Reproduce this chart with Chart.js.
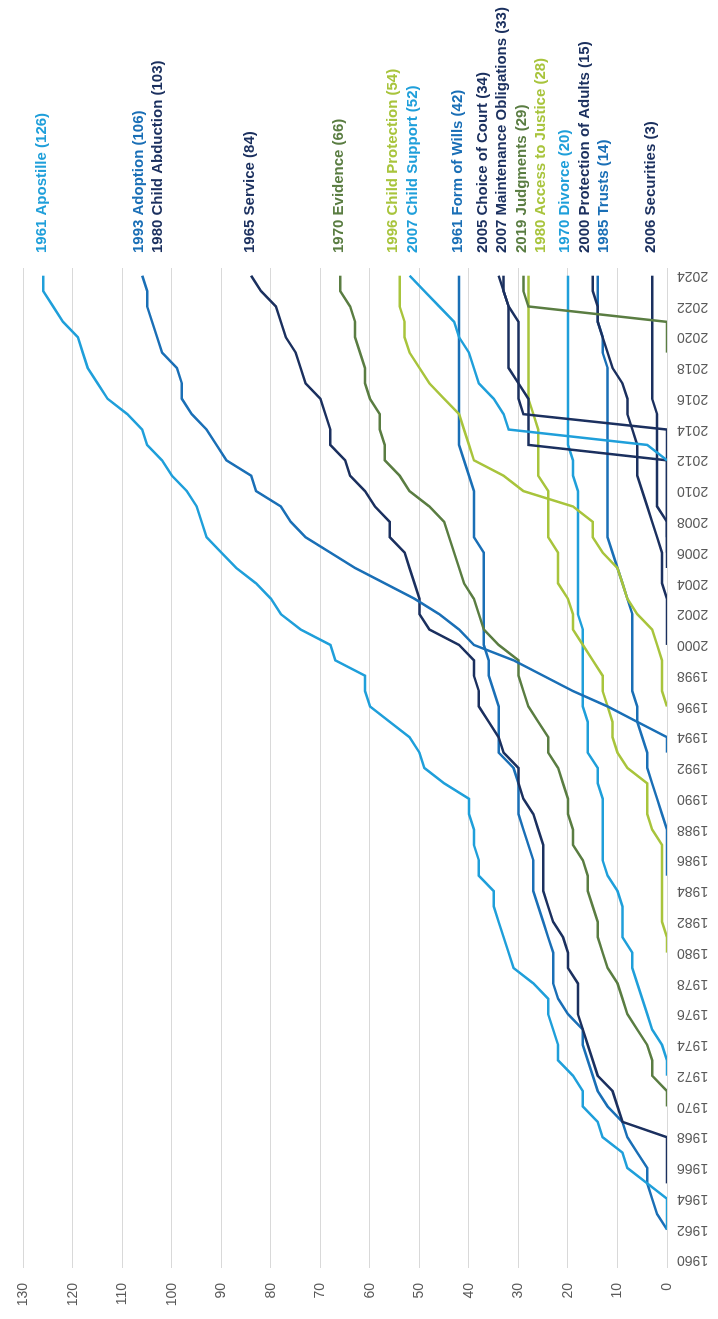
<!DOCTYPE html>
<html>
<head>
<meta charset="utf-8">
<script src="https://cdn.jsdelivr.net/npm/chart.js@4.4.1/dist/chart.umd.min.js"></script>
<style>
  html, body { margin: 0; padding: 0; background: #ffffff; overflow: hidden; }
  #wrap {
    position: absolute; left: 0; top: 0;
    width: 1319px; height: 718px;
    transform-origin: 0 0;
    transform: translate(0, 1319px) rotate(-90deg);
  }
</style>
</head>
<body>
<div id="wrap"><canvas id="c"></canvas></div>
<script>
// ---------- categories ----------
const years = [1960,1961,1962,1963,1964,1965,1966,1967,1968,1969,
  1970,1971,1972,1973,1974,1975,1976,1977,1978,1979,
  1980,1981,1982,1983,1984,1985,1986,1987,1988,1989,
  1990,1991,1992,1993,1994,1995,1996,1997,1998,1999,
  2000,2001,2002,2003,2004,2005,2006,2007,2008,2009,
  2010,2011,2012,2013,2014,2015,2016,2017,2018,2019,
  2020,2021,2022,2023,2024];

// ---------- series (cumulative parties, from first plotted year) ----------
const apostille = [0,0,0,4,8,9,13,14,
  17,17,19,22,22,23,24,24,27,31,
  32,33,34,35,35,38,38,39,39,40,
  40,45,49,50,52,56,60,61,61,67,
  68,74,78,80,83,87,90,93,94,95,
  97,100,102,105,106,109,113,115,117,118,
  119,122,124,126,126];
const adoption = [0,0,6,12,19,25,31,
  39,42,46,51,57,63,68,73,76,78,
  83,84,89,91,93,96,98,98,99,102,
  103,104,105,105,106];
const service = [0,0,0,0,9,
  10,11,14,15,16,17,18,18,18,20,
  20,21,23,24,25,25,25,25,26,27,
  29,30,30,33,34,36,38,38,39,39,
  42,48,50,50,51,52,53,56,56,59,
  61,64,65,68,68,69,70,73,74,75,
  77,78,79,82,84];
const evidence = [0,0,3,3,4,6,8,9,10,12,
  13,14,14,15,16,16,17,19,19,20,
  20,21,22,24,24,26,28,29,30,30,
  34,37,38,39,41,42,43,44,45,48,
  52,54,57,57,58,58,60,61,61,62,
  63,63,64,66,66];
const childProtection = [0,1,1,1,
  2,3,6,8,9,10,13,15,15,19,
  29,33,39,40,41,42,45,48,50,52,
  53,53,54,54,54];
const childSupport = [0,4,32,33,35,38,39,40,
  42,43,46,49,52];
const formOfWills = [0,2,3,4,4,6,8,9,
  12,14,15,16,17,17,20,22,23,23,
  23,24,25,26,27,27,27,28,29,30,
  30,30,31,34,34,34,34,35,36,36,
  37,37,37,37,37,37,37,39,39,39,
  39,40,41,42,42,42,42,42,42,42,
  42,42,42,42,42];
const choiceOfCourt = [0,0,0,0,0,
  0,0,0,0,0,29,30,30,30,30,
  30,30,32,33,34];
const maintenance = [0,0,0,
  0,0,0,28,28,28,28,30,32,32,
  32,32,32,33,33];
const judgments = [0,0,0,28,29,29];
const accessToJustice = [0,0,1,1,1,1,1,1,3,4,
  4,4,8,10,11,11,12,13,13,15,
  17,19,19,20,22,22,22,24,24,24,
  24,26,26,26,26,27,28,28,28,28,
  28,28,28,28,28];
const divorce = [0,0,1,3,4,5,6,7,
  7,9,9,9,10,12,13,13,13,13,
  13,14,14,16,16,16,17,17,17,17,
  17,17,18,18,18,18,18,18,18,18,
  18,19,19,20,20,20,20,20,20,20,
  20,20,20,20,20];
const trusts = [0,0,0,0,1,
  2,3,4,4,5,6,6,7,7,7,
  7,7,7,8,9,10,11,12,12,12,
  12,12,12,12,12,12,12,12,12,13,
  13,14,14,14,14];
const protectionOfAdults = [0,0,0,0,1,1,1,2,3,4,
  5,6,6,6,7,8,8,9,11,12,
  13,14,14,15,15];
const securities = [0,0,0,2,
  2,2,2,2,2,2,3,3,3,3,
  3,3,3,3,3];

// ---------- series metadata ----------
const seriesNames = ['Apostille','Adoption','Child Abduction','Service','Evidence',
  'Child Protection','Child Support','Form of Wills','Choice of Court',
  'Maintenance Obligations','Judgments','Access to Justice','Divorce',
  'Protection of Adults','Trusts','Securities'];
const conventionYears = [1961,1993,1980,1965,1970,1996,2007,1961,2005,2007,2019,1980,1970,2000,1985,2006];
const totals = [126,106,103,84,66,54,52,42,34,33,29,28,20,15,14,3];
const firstYears = [1962,1993,null,1965,1970,1996,2012,1962,2005,2007,2019,1980,1972,1985 + 15,1985,2006];
const seriesValues = [apostille,adoption,null,service,evidence,childProtection,childSupport,
  formOfWills,choiceOfCourt,maintenance,judgments,accessToJustice,divorce,
  protectionOfAdults,trusts,securities];

// ---------- styles ----------
const LIGHT = '#1f9fda', MID = '#1a6fb6', NAVY = '#1b305f', GREEN = '#5a7d42', LIME = '#a8c43c';
const seriesColors = [LIGHT,MID,NAVY,NAVY,GREEN,LIME,LIGHT,MID,NAVY,NAVY,GREEN,LIME,LIGHT,NAVY,MID,NAVY];
const FONT = '"Liberation Sans", Arial, sans-serif';

// ---------- build datasets ----------
const datasets = [];
seriesValues.forEach((vals, i) => {
  if (!vals) return;
  const offset = years.indexOf(firstYears[i]);
  const data = years.map((y, k) => (k >= offset && k - offset < vals.length) ? vals[k - offset] : null);
  datasets.push({
    label: seriesNames[i],
    data,
    borderColor: seriesColors[i],
    backgroundColor: seriesColors[i],
    borderWidth: 2.5,
    pointRadius: 0,
    tension: 0,
    fill: false,
    spanGaps: false
  });
});

// ---------- end labels plugin ----------
const endLabels = {
  id: 'endLabels',
  afterDatasetsDraw(chart) {
    const { ctx, chartArea, scales } = chart;
    const ys = scales.y;
    const gap = 19.5;
    const items = seriesNames.map((n, i) => ({
      text: conventionYears[i] + ' ' + n + ' (' + totals[i] + ')',
      color: seriesColors[i],
      ideal: ys.getPixelForValue(totals[i])
    })).sort((a, b) => a.ideal - b.ideal);
    const clusters = items.map(it => ({ items: [it] }));
    const place = c => {
      const n = c.items.length;
      const mean = c.items.reduce((s, it) => s + it.ideal, 0) / n;
      c.start = mean - (n - 1) * gap / 2;
    };
    clusters.forEach(place);
    let changed = true;
    while (changed) {
      changed = false;
      for (let i = 0; i < clusters.length - 1; i++) {
        const a = clusters[i], b = clusters[i + 1];
        const aEnd = a.start + (a.items.length - 1) * gap;
        if (b.start - aEnd < gap) {
          a.items = a.items.concat(b.items);
          clusters.splice(i + 1, 1);
          place(a);
          changed = true;
          break;
        }
      }
    }
    ctx.save();
    ctx.font = 'bold 15px ' + FONT;
    ctx.textBaseline = 'middle';
    ctx.textAlign = 'left';
    clusters.forEach(c => c.items.forEach((it, k) => {
      ctx.fillStyle = it.color;
      ctx.fillText(it.text, chartArea.right + 15, c.start + k * gap - 1.5);
    }));
    ctx.restore();
  }
};

new Chart(document.getElementById('c'), {
  type: 'line',
  data: { labels: years, datasets },
  options: {
    responsive: true,
    maintainAspectRatio: false,
    animation: false,
    layout: { padding: { top: 18, right: 268, bottom: 0, left: 0 } },
    plugins: { legend: { display: false }, tooltip: { enabled: false } },
    scales: {
      x: {
        type: 'category',
        offset: true,
        grid: { display: false, drawTicks: false },
        border: { display: false },
        ticks: {
          autoSkip: false,
          minRotation: 90,
          maxRotation: 90,
          padding: 10,
          color: '#595959',
          font: { family: FONT, size: 14 },
          callback: function (v, i) { const yr = years[i]; return yr % 2 === 0 ? String(yr) : ''; }
        },
        afterFit(s) { s.height = 51; }
      },
      y: {
        min: 0,
        max: 130,
        grid: { color: '#d9d9d9', lineWidth: 1, drawTicks: false },
        border: { display: false },
        ticks: { stepSize: 10, padding: 15, color: '#595959', font: { family: FONT, size: 14 } },
        afterFit(s) { s.width = 51; }
      }
    }
  },
  plugins: [endLabels]
});
</script>
</body>
</html>
